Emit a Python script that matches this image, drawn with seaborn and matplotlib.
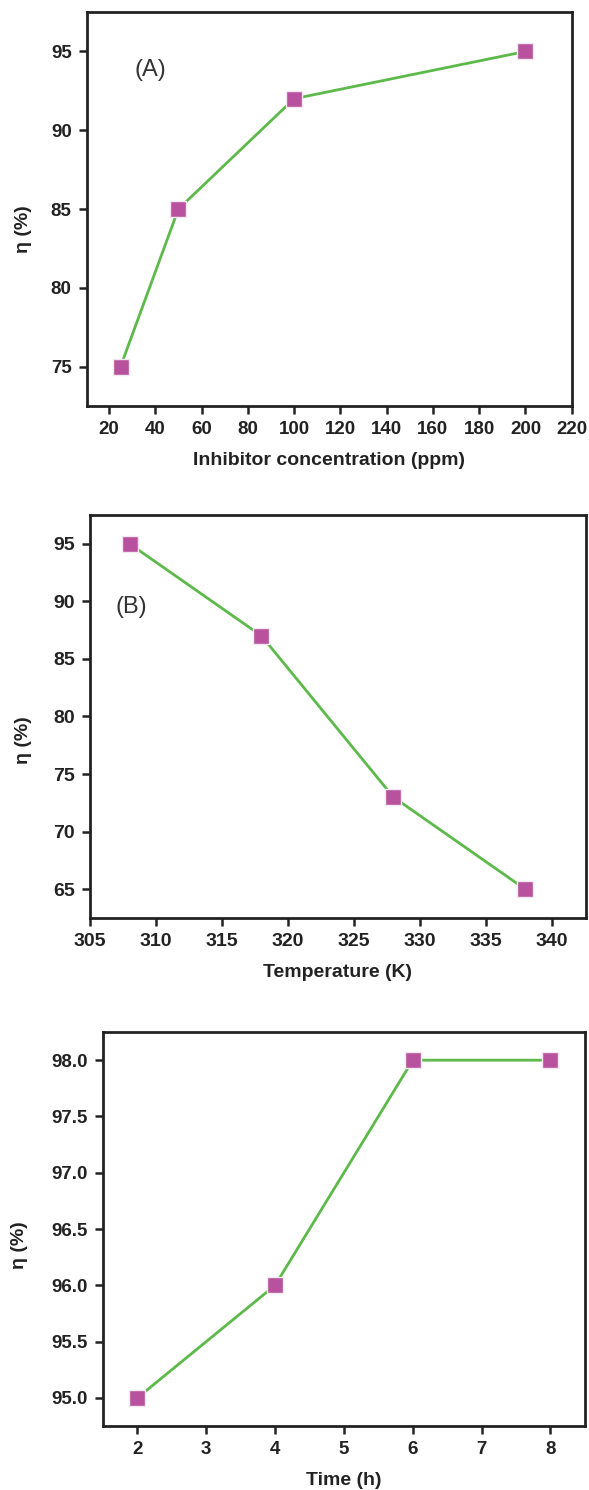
import matplotlib
matplotlib.use("Agg")
import matplotlib.pyplot as plt
import seaborn as sns
import pandas as pd

# Data
conc_ppm = [25, 50, 100, 200]
eta_conc = [75, 85, 92, 95]
temp_K = [308, 318, 328, 338]
eta_temp = [95, 87, 73, 65]
time_h = [2, 4, 6, 8]
eta_time = [95.0, 96.0, 98.0, 98.0]

x_ticks_a = [20, 40, 60, 80, 100, 120, 140, 160, 180, 200, 220]
y_ticks_a = [75, 80, 85, 90, 95]
x_ticks_b = [305, 310, 315, 320, 325, 330, 335, 340]
y_ticks_b = [65, 70, 75, 80, 85, 90, 95]
x_ticks_c = [2, 3, 4, 5, 6, 7, 8]
y_ticks_c = [95.0, 95.5, 96.0, 96.5, 97.0, 97.5, 98.0]

sns.set_style("white")
plt.rcParams['font.family'] = ['Liberation Sans', 'DejaVu Sans']

LINE = "#5cb94a"
MARK = "#b9529e"
SPINE = "#222222"
TXT = "#222222"

fig = plt.figure(figsize=(5.89, 14.90), dpi=100)

def style(ax, xlabel, xticks, yticks, xlim, ylim, yfmt, ticksize, ylab_xy):
    ax.set_xlim(*xlim)
    ax.set_ylim(*ylim)
    ax.set_xticks(xticks)
    ax.set_yticks(yticks)
    ax.set_yticklabels([yfmt.format(v) for v in yticks])
    for s in ax.spines.values():
        s.set_visible(True)
        s.set_color(SPINE)
        s.set_linewidth(2.0)
    ax.tick_params(axis='both', which='major', direction='out', length=5.5,
                   width=1.8, color=SPINE, labelsize=ticksize, labelcolor=TXT,
                   bottom=True, left=True, top=False, right=False, pad=5.5)
    for lab in ax.get_xticklabels() + ax.get_yticklabels():
        lab.set_fontweight('bold')
    ax.set_xlabel(xlabel, fontsize=14, fontweight='bold', color=TXT, labelpad=10)
    ax.set_ylabel("η (%)", fontsize=14, fontweight='bold', color=TXT)
    ax.yaxis.set_label_coords(*ylab_xy)
    ax.grid(False)

def draw(ax, x, y):
    df = pd.DataFrame({"x": x, "y": y})
    sns.lineplot(data=df, x="x", y="y", ax=ax, color=LINE, linewidth=2.0,
                 marker='s', markersize=11, markerfacecolor=MARK,
                 markeredgecolor="#f4e8f0", markeredgewidth=1.0)

axA = fig.add_axes([0.1477, 0.7275, 0.823, 0.2644])
draw(axA, conc_ppm, eta_conc)
style(axA, "Inhibitor concentration (ppm)", x_ticks_a, y_ticks_a, (10.5, 220), (72.5, 97.5), "{:.0f}", 13.5, (-0.113, 0.449))
axA.text(37.7, 93.8, "(A)", fontsize=17, color="#333333", ha='center', va='center')

axB = fig.add_axes([0.1528, 0.3839, 0.842, 0.2705])
draw(axB, temp_K, eta_temp)
style(axB, "Temperature (K)", x_ticks_b, y_ticks_b, (305, 342.6), (62.5, 97.5), "{:.0f}", 14, (-0.117, 0.442))
axB.text(308.1, 89.5, "(B)", fontsize=17, color="#333333", ha='center', va='center')

axC = fig.add_axes([0.1749, 0.04295, 0.818, 0.2644])
draw(axC, time_h, eta_time)
style(axC, "Time (h)", x_ticks_c, y_ticks_c, (1.5, 8.5), (94.75, 98.25), "{:.1f}", 13.5, (-0.156, 0.459))

fig.savefig("out.png", dpi=100)
